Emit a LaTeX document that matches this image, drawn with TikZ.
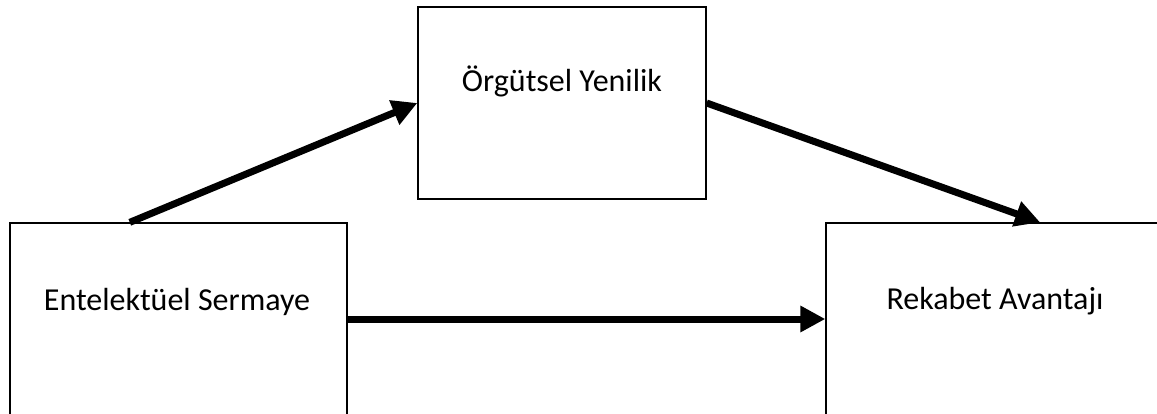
\documentclass[tikz,border=0pt]{standalone}
\usepackage{fontspec}
\setmainfont{Carlito}
\usetikzlibrary{arrows.meta,calc}
\begin{document}
\begin{tikzpicture}[x=1pt,y=-1pt,
  box/.style={draw=black,line width=1.3pt,minimum height=192pt,inner sep=0pt},
  lbl/.style={anchor=base,inner sep=0pt,font=\fontsize{32}{38}\selectfont},
  conn/.style={line width=7pt,-{Triangle[length=25pt,width=25pt]}}]
\useasboundingbox (0,0) rectangle (1157,414);
\clip (0,0) rectangle (1157,414);
\node[box,minimum width=337pt] (L) at (178.5,319) {};
\node[box,minimum width=288pt] (T) at (562,103) {};
\node[box,minimum width=337pt] (R) at (994.5,319) {};
\node[lbl] (Lt) at (177,310) {Entelektüel Sermaye};
\node[lbl] (Tt) at (562,92) {Örgütsel Yenilik};
\node[lbl] (Rt) at (995,309) {Rekabet Avantajı};
\draw[conn] ($(L.north west)!0.356!(L.north east)$) -- (T.west);
\draw[conn] (T.east) -- ($(R.north west)!0.635!(R.north east)$);
\draw[conn] (L.east) -- (R.west);
\end{tikzpicture}
\end{document}
